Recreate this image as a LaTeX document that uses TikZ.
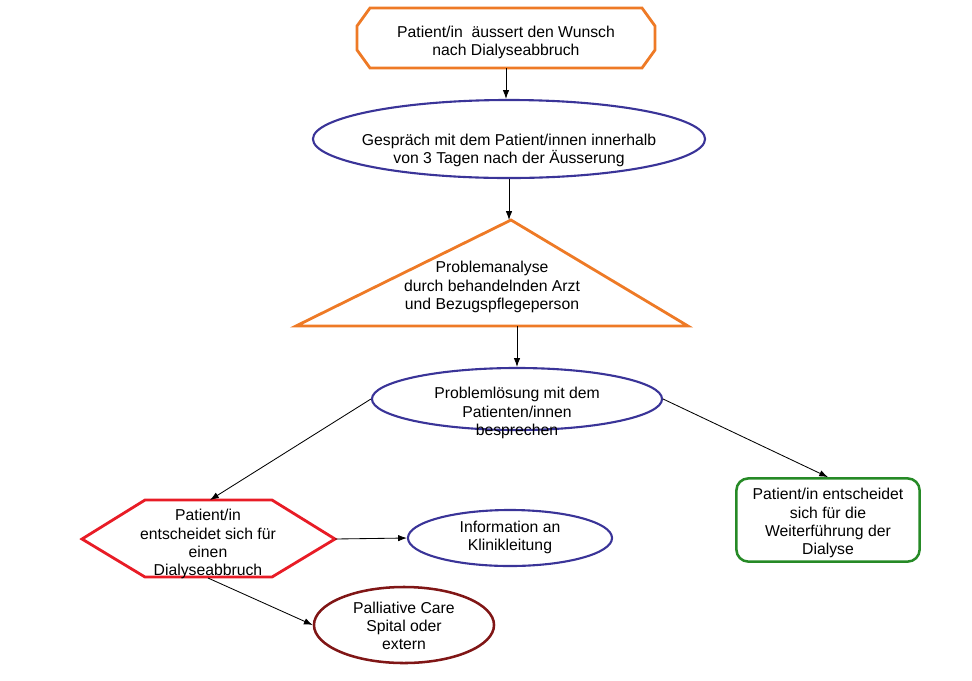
\documentclass[tikz,border=0pt]{standalone}
\usepackage{fontspec}
\setmainfont{Liberation Sans}
\usetikzlibrary{shapes.geometric,arrows.meta}

\definecolor{orangeline}{RGB}{238,122,38}
\definecolor{blueline}{RGB}{58,52,152}
\definecolor{redline}{RGB}{232,28,38}
\definecolor{greenline}{RGB}{38,138,38}
\definecolor{darkredline}{RGB}{128,22,22}

\begin{document}
\begin{tikzpicture}[x    = {(0.025cm,0cm)},
                    y    = {(0cm,-0.025cm)},
                    font = {\fontsize{11.2}{12.9}\selectfont},
                    >    = {Latex[length=2.2mm,width=1.6mm]}]
% styles of boxes and arrows
\tikzset{txt/.style={align=center,inner sep=0pt},
         flow/.style={->,black,line width=0.6pt},
         ovalbox/.style={ellipse,draw=blueline,line width=1.5pt,inner sep=0pt},
         orangeframe/.style={draw=orangeline,line width=2pt,line join=miter}}
\useasboundingbox (0,0) rectangle (972,680);
% octagon "Wunsch"
\coordinate (wunschbot) at (506,68);
\draw[orangeframe] (370,8) -- (642,8) -- (655,26) -- (655,50) -- (642,68)
                   -- (370,68) -- (357,50) -- (357,26) -- cycle;
\node[txt] (wunsch) at (506,42) {Patient/in~ äussert den Wunsch\\nach Dialyseabbruch};
% "Gespraech"
\node[ovalbox,minimum width=9.8cm,minimum height=1.95cm] (gespraech) at (509,139) {};
\node[txt] (gespraech-txt) at (509,150) {Gespräch mit dem Patient/innen innerhalb\\von 3 Tagen nach der Äusserung};
% triangle "Problemanalyse"
\coordinate (tritop)   at (511,220);
\coordinate (trileft)  at (296,326);
\coordinate (triright) at (688,326);
\coordinate (tribase)  at (517,326);
\draw[orangeframe] (trileft) -- (tritop) -- (triright) -- cycle;
\node[txt] (analyse) at (492,287) {Problemanalyse\\durch behandelnden Arzt\\und Bezugspflegeperson};
% "Problemloesung"
\node[ovalbox,minimum width=7.25cm,minimum height=1.55cm] (loesung) at (517,399) {};
\node[txt] (loesung-txt) at (517,413) {Problemlösung mit dem\\Patienten/innen\\besprechen};
% hexagon "Dialyseabbruch"
\coordinate (hextop) at (210,500);
\coordinate (hexbot) at (208,578);
\coordinate (hexright) at (335,539);
\draw[draw=redline,line width=2pt,line join=miter]
  (82,539) -- (145,500) -- (272,500) -- (hexright) -- (272,577) -- (145,577) -- cycle;
\node[txt] (abbruch) at (208,544) {Patient/in\\entscheidet sich für\\einen\\Dialyseabbruch};
% "Information"
\node[ovalbox,minimum width=5.1cm,minimum height=1.4cm] (info) at (510,538) {};
\node[txt] (info-txt) at (510,537) {Information an\\Klinikleitung};
% "Weiterfuehrung"
\node[draw=greenline,line width=1.8pt,rounded corners=0.3cm,
      minimum width=4.58cm,minimum height=2.08cm,inner sep=0pt] (weiter) at (828,520) {};
\node[txt] (weiter-txt) at (828,523) {Patient/in entscheidet\\sich für die\\Weiterführung der\\Dialyse};
% "Palliative Care"
\node[ellipse,draw=darkredline,line width=1.8pt,inner sep=0pt,
      minimum width=4.5cm,minimum height=1.9cm] (palliativ) at (404,625) {};
\node[txt] (palliativ-txt) at (404,626) {Palliative Care\\Spital oder\\extern};
% arrows
\draw[flow] (wunschbot) -- (wunschbot |- gespraech.north);
\draw[flow] (gespraech.south) -- (gespraech.south |- tritop);
\draw[flow] (tribase) -- (tribase |- loesung.north);
\draw[flow] (loesung.west) -- (hextop);
\draw[flow] (loesung.east) -- (weiter.north);
\draw[flow] (hexright) -- (info.west);
\draw[flow] (hexbot) -- (palliativ.west);
\end{tikzpicture}
\end{document}
